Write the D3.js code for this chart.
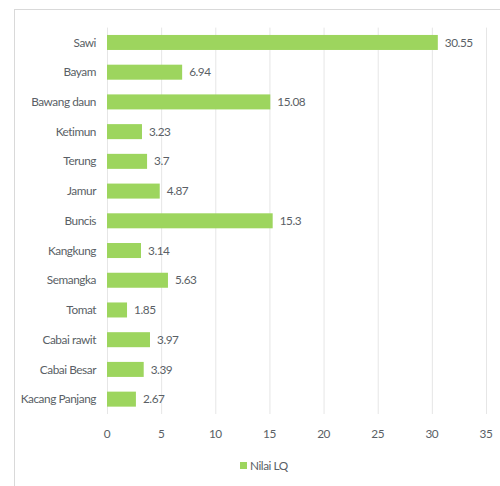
<!DOCTYPE html>
<html><head><meta charset="utf-8">
<script src="https://cdn.jsdelivr.net/npm/d3@7"></script>
<style>body{margin:0;background:#fff}svg{display:block}text{font-family:Lato,"Open Sans",sans-serif;fill:#5a5f66;letter-spacing:-0.45px}</style>
</head><body><svg id="c" width="500" height="486"></svg>
<script>
const categories = ["Sawi","Bayam","Bawang daun","Ketimun","Terung","Jamur","Buncis","Kangkung","Semangka","Tomat","Cabai rawit","Cabai Besar","Kacang Panjang"];
const values = [30.55,6.94,15.08,3.23,3.7,4.87,15.3,3.14,5.63,1.85,3.97,3.39,2.67];
const labels = ["30.55","6.94","15.08","3.23","3.7","4.87","15.3","3.14","5.63","1.85","3.97","3.39","2.67"];
const ticks = [0,5,10,15,20,25,30,35];
const seriesName = "Nilai LQ";

const svg = d3.select("#c");
svg.append("rect").attr("x",14.5).attr("y",9.5).attr("width",520).attr("height",520)
  .attr("fill","none").attr("stroke","#d9d9d9");
const x = d3.scaleLinear().domain([0,35]).range([107,486]);
const y = d3.scaleBand().domain(categories).range([27.6,414]).paddingInner(0.495).paddingOuter(0.2475);

svg.append("g").selectAll("line").data(ticks).join("line")
  .attr("x1",d=>x(d)+0.5).attr("x2",d=>x(d)+0.5).attr("y1",27.6).attr("y2",414)
  .attr("stroke","#e6e6e6").attr("stroke-width",1);

svg.append("g").selectAll("rect").data(values).join("rect")
  .attr("x",x(0)).attr("y",(d,i)=>y(categories[i])).attr("width",d=>x(d)-x(0)).attr("height",y.bandwidth())
  .attr("fill","#9dd55e");

const fs = 11.8;
svg.append("g").selectAll("text").data(values).join("text")
  .attr("x",d=>x(d)+7).attr("y",(d,i)=>y(categories[i])+y.bandwidth()/2).attr("dy","0.35em")
  .attr("font-size",fs).text((d,i)=>labels[i]);

svg.append("g").selectAll("text").data(categories).join("text")
  .attr("x",96).attr("y",d=>y(d)+y.bandwidth()/2).attr("dy","0.35em").attr("text-anchor","end")
  .attr("font-size",fs).text(d=>d);

svg.append("g").selectAll("text").data(ticks).join("text")
  .attr("x",d=>x(d)).attr("y",434).attr("dy","0.35em").attr("text-anchor","middle")
  .attr("font-size",fs).text(d=>d);

const lg = svg.append("g");
lg.append("rect").attr("x",240).attr("y",462).attr("width",7).attr("height",7).attr("fill","#9dd55e");
lg.append("text").attr("x",250).attr("y",466).attr("dy","0.35em").attr("font-size",fs).text(seriesName);
</script></body></html>
